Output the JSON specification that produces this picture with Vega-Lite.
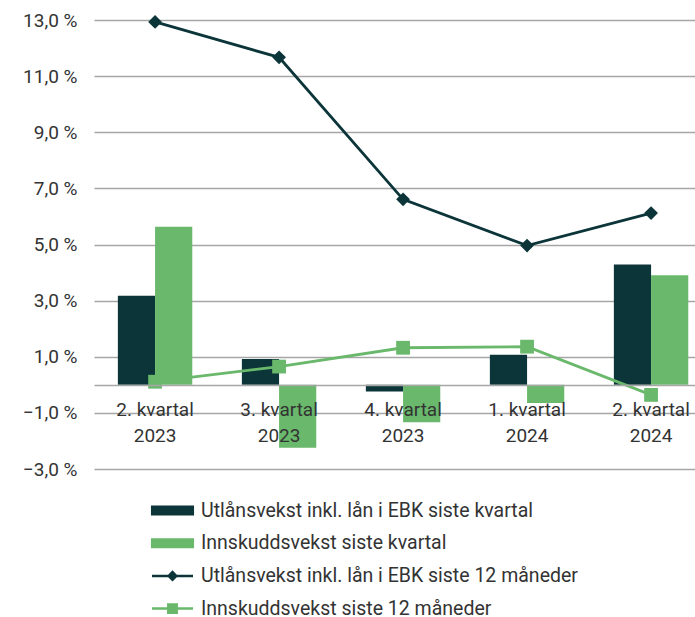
{
  "$schema": "https://vega.github.io/schema/vega-lite/v6.json",
  "width": 601,
  "height": 449,
  "autosize": {"type": "none"},
  "padding": {"left": 94, "top": 20, "right": 0, "bottom": 148},
  "background": "white",
  "config": {
    "font": "Roboto",
    "view": {"stroke": null},
    "axis": {"labelFont": "Roboto", "labelFontSize": 19, "labelColor": "#333333"},
    "legend": {"labelFont": "Roboto", "labelFontSize": 19.5, "labelColor": "#333333"}
  },
  "data": {
    "values": [
      {"kvartal": "2. kvartal 2023", "serie": "Utlånsvekst inkl. lån i EBK siste kvartal", "verdi": 3.17},
      {"kvartal": "3. kvartal 2023", "serie": "Utlånsvekst inkl. lån i EBK siste kvartal", "verdi": 0.92},
      {"kvartal": "4. kvartal 2023", "serie": "Utlånsvekst inkl. lån i EBK siste kvartal", "verdi": -0.24},
      {"kvartal": "1. kvartal 2024", "serie": "Utlånsvekst inkl. lån i EBK siste kvartal", "verdi": 1.07},
      {"kvartal": "2. kvartal 2024", "serie": "Utlånsvekst inkl. lån i EBK siste kvartal", "verdi": 4.29},
      {"kvartal": "2. kvartal 2023", "serie": "Innskuddsvekst siste kvartal", "verdi": 5.63},
      {"kvartal": "3. kvartal 2023", "serie": "Innskuddsvekst siste kvartal", "verdi": -2.24},
      {"kvartal": "4. kvartal 2023", "serie": "Innskuddsvekst siste kvartal", "verdi": -1.33},
      {"kvartal": "1. kvartal 2024", "serie": "Innskuddsvekst siste kvartal", "verdi": -0.65},
      {"kvartal": "2. kvartal 2024", "serie": "Innskuddsvekst siste kvartal", "verdi": 3.9},
      {"kvartal": "2. kvartal 2023", "serie": "Utlånsvekst inkl. lån i EBK siste 12 måneder", "verdi": 12.93},
      {"kvartal": "3. kvartal 2023", "serie": "Utlånsvekst inkl. lån i EBK siste 12 måneder", "verdi": 11.67},
      {"kvartal": "4. kvartal 2023", "serie": "Utlånsvekst inkl. lån i EBK siste 12 måneder", "verdi": 6.61},
      {"kvartal": "1. kvartal 2024", "serie": "Utlånsvekst inkl. lån i EBK siste 12 måneder", "verdi": 4.96},
      {"kvartal": "2. kvartal 2024", "serie": "Utlånsvekst inkl. lån i EBK siste 12 måneder", "verdi": 6.12},
      {"kvartal": "2. kvartal 2023", "serie": "Innskuddsvekst siste 12 måneder", "verdi": 0.11},
      {"kvartal": "3. kvartal 2023", "serie": "Innskuddsvekst siste 12 måneder", "verdi": 0.65},
      {"kvartal": "4. kvartal 2023", "serie": "Innskuddsvekst siste 12 måneder", "verdi": 1.32},
      {"kvartal": "1. kvartal 2024", "serie": "Innskuddsvekst siste 12 måneder", "verdi": 1.36},
      {"kvartal": "2. kvartal 2024", "serie": "Innskuddsvekst siste 12 måneder", "verdi": -0.36}
    ]
  },
  "encoding": {
    "x": {
      "field": "kvartal",
      "type": "nominal",
      "sort": null,
      "scale": {"paddingInner": 0.4, "paddingOuter": 0.1234, "align": 0.78},
      "axis": {
        "title": null,
        "orient": "bottom",
        "offset": -84,
        "labelAngle": 0,
        "ticks": false,
        "domain": true,
        "domainColor": "#a6a6a6",
        "domainWidth": 1.3,
        "labelPadding": 15,
        "labelLineHeight": 26,
        "labelExpr": "[slice(datum.label, 0, 10), slice(datum.label, 11)]",
        "zindex": 1
      }
    },
    "y": {
      "field": "verdi",
      "type": "quantitative",
      "scale": {"domain": [-3, 13], "nice": false, "zero": false},
      "axis": {
        "title": null,
        "values": [-3, -1, 1, 3, 5, 7, 9, 11, 13],
        "domain": false,
        "ticks": false,
        "grid": true,
        "gridColor": "#a6a6a6",
        "gridWidth": 1.3,
        "labelPadding": 17,
        "labelExpr": "replace(format(datum.value, '.1f'), '.', ',') + ' %'",
        "zindex": 0
      }
    },
    "color": {
      "field": "serie",
      "type": "nominal",
      "scale": {
        "domain": [
          "Utlånsvekst inkl. lån i EBK siste kvartal",
          "Innskuddsvekst siste kvartal",
          "Utlånsvekst inkl. lån i EBK siste 12 måneder",
          "Innskuddsvekst siste 12 måneder"
        ],
        "range": ["#0c353a", "#69b86b", "#0c353a", "#69b86b"]
      },
      "legend": {
        "title": null,
        "orient": "none",
        "legendX": 67,
        "legendY": 479,
        "direction": "vertical",
        "padding": 0,
        "symbolSize": 400,
        "labelOffset": 17,
        "rowPadding": 11.7,
        "labelLimit": 600,
        "encode": {
          "symbols": {
            "update": {
              "shape": {"signal": "datum.index == 0 || datum.index == 1 ? 'M-2.03,-0.38H2.03V0.38H-2.03Z' : datum.index == 2 ? 'M-2.05,0H2.05M-0.38,0L0,-0.38L0.38,0L0,0.38Z' : 'M-2.05,0H2.05M-0.42,-0.42H0.42V0.42H-0.42Z'"},
              "fill": {"scale": "color", "field": "value"},
              "stroke": {"scale": "color", "field": "value"},
              "strokeWidth": {"value": 2.5},
              "opacity": {"value": 1}
            }
          }
        }
      }
    }
  },
  "layer": [
    {
      "transform": [{"filter": {"field": "serie", "oneOf": ["Utlånsvekst inkl. lån i EBK siste kvartal", "Innskuddsvekst siste kvartal"]}}],
      "mark": {"type": "bar"},
      "encoding": {
        "xOffset": {"field": "serie", "type": "nominal", "sort": null, "scale": {"paddingInner": 0, "paddingOuter": 0}}
      }
    },
    {
      "transform": [{"filter": {"field": "serie", "oneOf": ["Utlånsvekst inkl. lån i EBK siste 12 måneder", "Innskuddsvekst siste 12 måneder"]}}],
      "mark": {"type": "line", "strokeWidth": 2.8},
      "encoding": {}
    },
    {
      "transform": [{"filter": {"field": "serie", "oneOf": ["Utlånsvekst inkl. lån i EBK siste 12 måneder", "Innskuddsvekst siste 12 måneder"]}}],
      "mark": {"type": "point", "filled": true, "opacity": 1},
      "encoding": {
        "shape": {
          "field": "serie",
          "type": "nominal",
          "scale": {"domain": ["Utlånsvekst inkl. lån i EBK siste 12 måneder", "Innskuddsvekst siste 12 måneder"], "range": ["diamond", "square"]},
          "legend": null
        },
        "size": {"value": 190}
      }
    }
  ]
}
